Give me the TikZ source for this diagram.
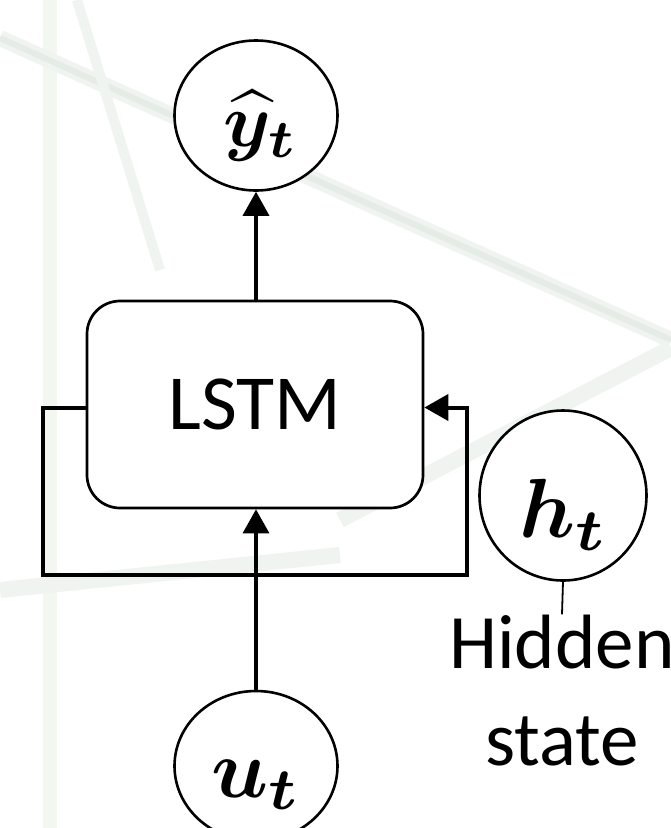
\documentclass[tikz,border=0pt]{standalone}
\usepackage{fontspec}
\setmainfont{Carlito}
\usepackage{amsmath}
\usepackage{bm}
\usepackage{graphicx}
\usetikzlibrary{arrows.meta,shapes.geometric}
\definecolor{bgline}{RGB}{229,235,229}
\definecolor{bghalo}{RGB}{240,244,240}
\definecolor{bgvert}{RGB}{242,247,240}
\definecolor{bgblob}{RGB}{170,215,160}
\begin{document}
\begin{tikzpicture}[x=1pt,y=-1pt,
  ell/.style={draw, shape=ellipse, inner sep=0pt, line width=2.6pt, fill=white},
  mathlbl/.style={inner sep=0pt},
  lstmbox/.style={draw, rounded corners=33pt, minimum width=336pt, minimum height=207pt,
    line width=2.7pt, fill=white, inner sep=0pt, font=\fontsize{78}{90}\selectfont},
  conn/.style={line width=3.4pt, -{Triangle[length=24pt,width=26pt]}},
  loopline/.style={line width=4pt, line join=miter, -{Triangle[length=24pt,width=26pt]}},
  txt/.style={inner sep=0pt, font=\fontsize{77}{90}\selectfont},
  halo/.style={bghalo, line width=16pt},
  band/.style={bgline, line width=6pt}
]
\useasboundingbox (0,0) rectangle (671,828);
% faint background
\fill[white] (0,0) rectangle (671,828);
\draw[bgvert, line width=14pt] (50,0) -- (50,828);
\draw[halo] (0,38) -- (671,340);
\draw[band] (0,38) -- (671,340);
\draw[halo, line width=10pt] (77,0) -- (160,270);
\draw[halo] (671,348) -- (340,520);
\draw[halo] (0,590) -- (340,555);
\fill[bgblob] (5pt,707pt) circle (52pt);
\fill[white] (348,606) rectangle (671,828);

% nodes
\node[ell, minimum width=163pt, minimum height=150pt] (y) at (256,115.5) {};
\node[mathlbl] (ytxt) at (261,126) {\scalebox{7.6}{$\bm{\widehat{y}}_{\bm{t}}$}};
\node[lstmbox] (lstm) at (255,404.5) {LSTM};
\node[ell, minimum width=167pt, minimum height=170pt] (h) at (563,495.5) {};
\node[mathlbl] (htxt) at (564,515) {\scalebox{8.4}{$\bm{h}_{\bm{t}}$}};
\node[ell, minimum width=163pt, minimum height=150pt] (u) at (256,766) {};
\node[mathlbl] (utxt) at (256.5,785) {\scalebox{8.4}{$\bm{u}_{\bm{t}}$}};
\node[txt, anchor=base] (hid1) at (562,668) {Hidden};
\node[txt, anchor=base] (hid2) at (562,765) {state};

\coordinate (lc) at (43,575);
\coordinate (rc) at (467,575);

% connectors
\draw[conn] (lstm.north -| y.south) -- (y.south);
\draw[loopline] ([yshift=-3pt]lstm.west) -| (lc) -- (rc) |- ([yshift=-3pt]lstm.east);
\draw[conn] (u.north) -- (u.north |- lstm.south);
\draw[line width=1.8pt] (h.south) -- (hid1.north);
\end{tikzpicture}
\end{document}
